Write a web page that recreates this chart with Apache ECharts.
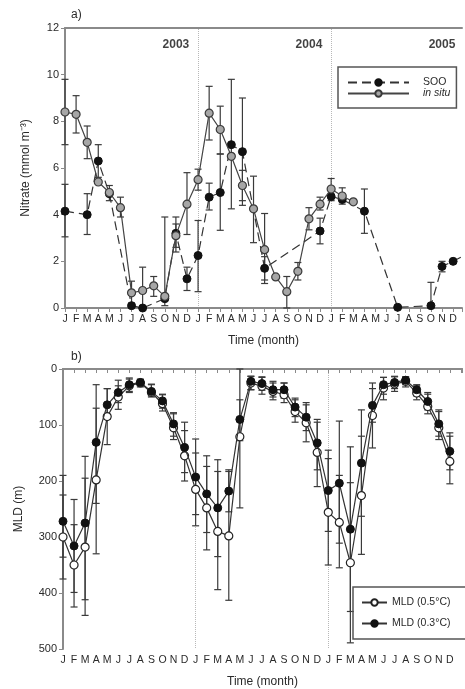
<!DOCTYPE html>
<html><head><meta charset="utf-8">
<script src="https://cdn.jsdelivr.net/npm/echarts@6/dist/echarts.min.js"></script>
<style>html,body{margin:0;padding:0;background:#fff}#c{width:465px;height:689px}</style>
</head><body><div id="c"></div>
<script>
// ---------- data ----------
const monthLetters = ['J','F','M','A','M','J','J','A','S','O','N','D'];
const yearLabels = ['2003','2004','2005'];
const yearStarts = [12, 24];
const nitrateTicks = [0, 2, 4, 6, 8, 10, 12];
const mldTicks = [0, 100, 200, 300, 400, 500];

// panel a: nitrate (month index 0 = Jan 2003)
const sooNitrate = [4.15, null, 4.0, 6.3, 4.9, null, 0.1, 0.0, null, 0.4, 3.2, 1.25,
  2.25, 4.75, 4.95, 7.0, 6.7, null, 1.7, null, null, null, null, 3.3,
  4.78, 4.65, null, 4.15, null, null, 0.03, null, null, 0.1, 1.78, 2.0, 2.25];
const sooLow  = [3.05, null, 3.15, 5.6, null, null, null, null, null, null, 2.4, 0.75,
  0.7, 4.2, 3.33, 4.25, 4.4, null, 1.2, null, null, null, null, 2.75,
  null, null, null, 3.2, null, null, null, null, null, 0.0, 1.55, null, null];
const sooHigh = [5.3, null, 4.9, 7.0, null, null, null, null, null, null, 3.9, 1.75,
  3.75, 5.35, 6.6, 9.8, 9.0, null, 2.2, null, null, null, null, 3.85,
  null, null, null, 5.1, null, null, null, null, null, 1.1, 2.0, null, null];

const insituNitrate = [8.4, 8.3, 7.1, 5.4, 4.95, 4.3, 0.65, 0.75, 0.95, 0.5, 3.1, 4.45,
  5.5, 8.35, 7.65, 6.5, 5.25, 4.25, 2.5, 1.33, 0.7, 1.57, 3.82, 4.45,
  5.1, 4.8, 4.55];
const insituLow  = [7.0, 7.5, 6.4, null, 4.6, 3.9, 0.2, 0.05, 0.5, 0.1, 2.6, 3.15,
  5.05, 7.2, 6.6, null, 4.6, 2.8, 1.05, null, 0.0, 1.2, 3.35, 4.2,
  4.6, 4.45, null];
const insituHigh = [9.8, 9.1, 7.8, null, 5.25, 4.75, 1.15, 1.75, 1.35, 3.9, 3.6, 5.8,
  5.95, 9.5, 8.65, null, 5.9, 5.65, 4.05, null, 1.35, 1.95, 4.3, 4.75,
  5.55, 5.15, null];

// panel b: mixed layer depth (m)
const mld05 = [300, 350, 318, 198, 85, 50, 30, 25, 42, 62, 105, 155,
  215, 248, 290, 298, 121, 25, 31, 40, 46, 76, 96, 149,
  256, 274, 346, 226, 83, 34, 27, 22, 43, 67, 105, 165];
const mld05Low  = [225, 278, 195, 70, 35, 30, 18, 18, 28, 46, 80, 110,
  150, 174, 183, 183, 0, 13, 15, 25, 25, 55, 64, 90,
  160, 190, 203, 120, 25, 15, 13, 14, 30, 45, 73, 120];
const mld05High = [375, 425, 440, 330, 135, 72, 42, 32, 50, 75, 126, 200,
  280, 323, 394, 413, 248, 37, 45, 55, 60, 95, 130, 210,
  350, 355, 489, 331, 141, 55, 40, 32, 55, 80, 126, 205];
const mld03 = [272, 316, 275, 131, 64, 42, 28, 24, 40, 57, 98, 140,
  193, 223, 248, 218, 90, 22, 26, 37, 37, 68, 86, 132,
  217, 204, 286, 168, 65, 28, 24, 20, 37, 58, 98, 147];
const mld03Low  = [190, 233, 156, 28, 35, 20, 16, 19, 27, 45, 78, 95,
  125, 155, 162, 180, 55, 13, 14, 22, 25, 52, 60, 95,
  145, 93, 139, 73, 35, 15, 14, 14, 28, 42, 76, 114];
const mld03High = [336, 399, 412, 240, 90, 60, 40, 30, 48, 70, 120, 185,
  260, 292, 335, 255, 128, 37, 38, 50, 52, 85, 110, 180,
  290, 311, 433, 263, 95, 45, 35, 28, 48, 73, 120, 180];

// ---------- chart ----------
const FONT = "'Liberation Sans', Arial, sans-serif";
const AX = '#8a8a8a';
const TXT = '#2a2a2a';
const chart = echarts.init(document.getElementById('c'), null, {renderer: 'canvas'});

function pairs(arr) { return arr.map((v, i) => [i, v]); }
function errSeries(lo, hi, gi, color) {
  const data = [];
  lo.forEach((l, i) => { if (l != null && hi[i] != null) data.push([i, l, hi[i]]); });
  return {
    type: 'custom', xAxisIndex: gi * 2, yAxisIndex: gi, silent: true, z: 2,
    encode: {x: 0, y: [1, 2]},
    renderItem(params, api) {
      const x = api.value(0);
      const a = api.coord([x, api.value(1)]);
      const b = api.coord([x, api.value(2)]);
      const w = 3.5;
      const st = {stroke: color, lineWidth: 1.2};
      return {type: 'group', children: [
        {type: 'line', shape: {x1: a[0], y1: a[1], x2: b[0], y2: b[1]}, style: st},
        {type: 'line', shape: {x1: a[0] - w, y1: a[1], x2: a[0] + w, y2: a[1]}, style: st},
        {type: 'line', shape: {x1: b[0] - w, y1: b[1], x2: b[0] + w, y2: b[1]}, style: st}
      ]};
    },
    data
  };
}
function yearLineSeries(gi) {
  return {
    type: 'line', xAxisIndex: gi * 2, yAxisIndex: gi, z: 0, silent: true,
    data: yearStarts.map(v => [v, 0]), showSymbol: false, symbol: 'none',
    lineStyle: {width: 0, opacity: 0},
    markLine: {
      silent: true, symbol: ['none', 'none'], z: 0,
      label: {show: false},
      lineStyle: {type: 'dotted', color: '#b8b8b8', width: 1},
      data: yearStarts.map(v => ({xAxis: v}))
    }
  };
}
function monthAxis(gi, maxV) {
  return {
    type: 'value', gridIndex: gi, min: 0, max: maxV, interval: 1,
    name: 'Time (month)', nameLocation: 'middle', nameGap: 27,
    nameTextStyle: {fontFamily: FONT, fontSize: 12, color: TXT},
    axisLine: {show: true, lineStyle: {color: AX, width: 2}},
    axisTick: {show: true, length: 4, lineStyle: {color: AX, width: 1}},
    axisLabel: {fontFamily: FONT, fontSize: 10.5, color: TXT, margin: 6,
      formatter: v => (Number.isInteger(v) && v <= 35) ? monthLetters[v % 12] : ''},
    splitLine: {show: false}
  };
}
function topBorder(gi, maxV) {
  return {type: 'value', gridIndex: gi, position: 'top', min: 0, max: maxV,
    axisLine: {show: true, onZero: false, lineStyle: {color: AX, width: 2}},
    axisTick: {show: false}, axisLabel: {show: false}, splitLine: {show: false}};
}

const option = {
  animation: false,
  backgroundColor: '#fff',
  textStyle: {fontFamily: FONT},
  title: [
    {text: 'a)', left: 66, top: 4, textStyle: {fontFamily: FONT, fontSize: 12, fontWeight: 'normal', color: TXT}},
    {text: 'b)', left: 66, top: 346, textStyle: {fontFamily: FONT, fontSize: 12, fontWeight: 'normal', color: TXT}}
  ],
  legend: [
    {
      data: ['SOO', 'in situ'], orient: 'vertical', left: 338, top: 67,
      itemWidth: 61, itemHeight: 8, itemGap: 0, padding: [10, 6, 9, 9],
      borderColor: '#555', borderWidth: 1.5,
      formatter: n => n === 'in situ' ? '{i|in situ}' : '{n|' + n + '}',
      textStyle: {fontFamily: FONT, fontSize: 10.5, color: TXT,
        rich: {i: {fontStyle: 'italic', fontSize: 10.5, padding: [0, 0, 0, 9]},
               n: {fontSize: 10.5, padding: [0, 0, 0, 9]}}}
    },
    {
      data: ['MLD (0.5°C)', 'MLD (0.3°C)'], orient: 'vertical', left: 353, top: 587,
      itemWidth: 25, itemHeight: 8, itemGap: 10, padding: [10, 30, 10, 8],
      borderColor: '#555', borderWidth: 1.5,
      textStyle: {fontFamily: FONT, fontSize: 10.5, color: TXT}
    }
  ],
  grid: [
    {left: 65, right: 0, top: 28, height: 280},
    {left: 63, right: 0, top: 369, height: 280}
  ],
  xAxis: [
    monthAxis(0, 35.8), topBorder(0, 35.8),
    monthAxis(1, 36.1), topBorder(1, 36.1)
  ],
  yAxis: [
    {type: 'value', gridIndex: 0, min: nitrateTicks[0], max: nitrateTicks[nitrateTicks.length - 1], interval: 2,
      name: 'Nitrate (mmol m\u207B\u00B3)', nameLocation: 'middle', nameGap: 33,
      nameTextStyle: {fontFamily: FONT, fontSize: 12, color: TXT},
      axisLine: {show: true, lineStyle: {color: AX, width: 2}},
      axisTick: {show: true, length: 4, lineStyle: {color: AX}},
      axisLabel: {fontFamily: FONT, fontSize: 11, color: TXT, margin: 6},
      splitLine: {show: false}},
    {type: 'value', gridIndex: 1, inverse: true, min: mldTicks[0], max: mldTicks[mldTicks.length - 1], interval: 100,
      name: 'MLD (m)', nameLocation: 'middle', nameGap: 38,
      nameTextStyle: {fontFamily: FONT, fontSize: 12, color: TXT},
      axisLine: {show: true, lineStyle: {color: AX, width: 2}},
      axisTick: {show: true, length: 4, lineStyle: {color: AX}},
      axisLabel: {fontFamily: FONT, fontSize: 11, color: TXT, margin: 6},
      splitLine: {show: false}}
  ],
  series: [
    yearLineSeries(0),
    yearLineSeries(1),
    errSeries(sooLow, sooHigh, 0, '#3a3a3a'),
    errSeries(insituLow, insituHigh, 0, '#3a3a3a'),
    {
      name: 'SOO', type: 'line', xAxisIndex: 0, yAxisIndex: 0, z: 3,
      data: pairs(sooNitrate).filter(d => d[1] != null), connectNulls: true,
      symbol: 'circle', symbolSize: 8,
      itemStyle: {color: '#111', borderColor: '#111', borderWidth: 1},
      lineStyle: {color: '#333', width: 1.2, type: [9, 5]}
    },
    {
      name: 'in situ', type: 'line', xAxisIndex: 0, yAxisIndex: 0, z: 4,
      data: pairs(insituNitrate).filter(d => d[1] != null), connectNulls: true,
      symbol: 'circle', symbolSize: 8,
      itemStyle: {color: '#a6a6a6', borderColor: '#3a3a3a', borderWidth: 1.2},
      lineStyle: {color: '#444', width: 1.2, type: 'solid'}
    },
    {
      name: 'years', type: 'scatter', xAxisIndex: 0, yAxisIndex: 0, silent: true, z: 5,
      symbolSize: 0,
      data: yearLabels.map((y, i) => [12 * i + 10, 11.3, y]),
      label: {show: true, position: 'inside', formatter: p => p.value[2],
        fontFamily: FONT, fontSize: 12, fontWeight: 'bold', color: '#111'}
    },
    errSeries(mld05Low, mld05High, 1, '#3a3a3a'),
    errSeries(mld03Low, mld03High, 1, '#3a3a3a'),
    {
      name: 'MLD (0.5°C)', type: 'line', xAxisIndex: 2, yAxisIndex: 1, z: 3,
      data: pairs(mld05), symbol: 'circle', symbolSize: 8,
      itemStyle: {color: '#fff', borderColor: '#222', borderWidth: 1.2},
      lineStyle: {color: '#333', width: 1.2}
    },
    {
      name: 'MLD (0.3°C)', type: 'line', xAxisIndex: 2, yAxisIndex: 1, z: 4,
      data: pairs(mld03), symbol: 'circle', symbolSize: 8,
      itemStyle: {color: '#111', borderColor: '#111', borderWidth: 1},
      lineStyle: {color: '#333', width: 1.2}
    }
  ]
};
chart.setOption(option);
</script>
</body></html>
